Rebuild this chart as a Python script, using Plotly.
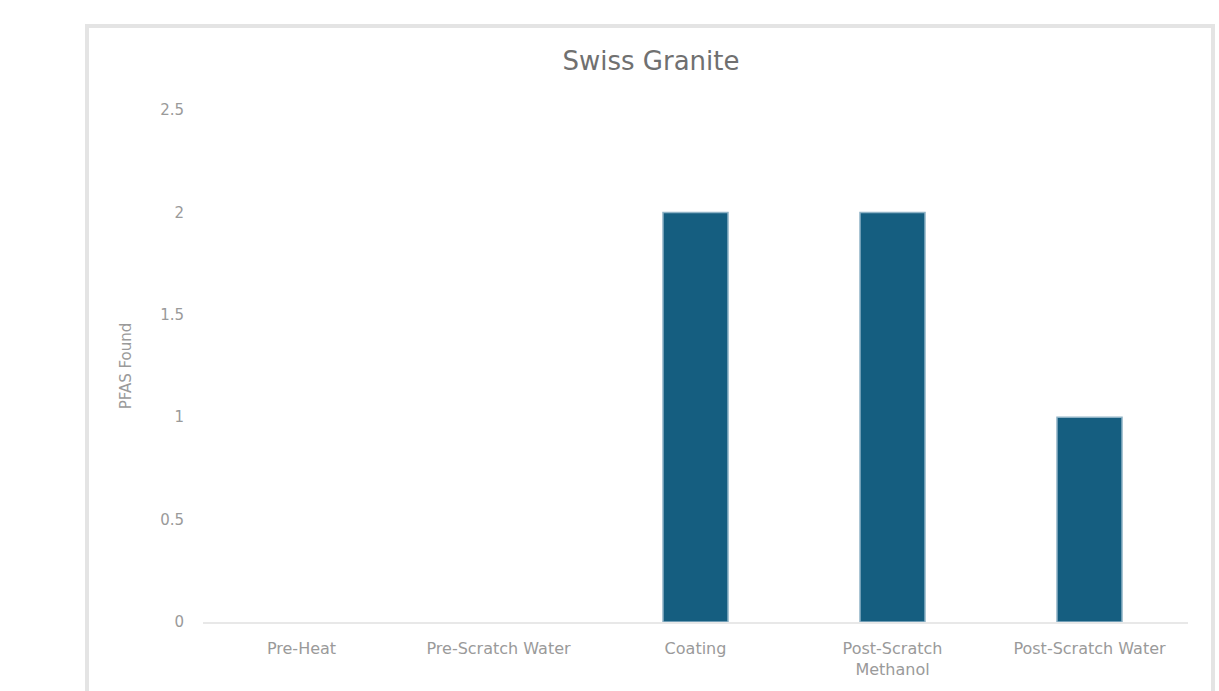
import plotly.graph_objects as go

# Sample stages and PFAS counts
categories = ["Pre-Heat", "Pre-Scratch Water", "Coating", "Post-Scratch<br>Methanol", "Post-Scratch Water"]
pfas_found = [0, 0, 2, 2, 1]
y_ticks = [0, 0.5, 1, 1.5, 2, 2.5]
y_tick_labels = ["0", "0.5", "1", "1.5", "2", "2.5"]

W, H = 1219, 691
L, R, T, B = 203, 31, 110, 69
pw, ph = W - L - R, H - T - B

def px_x(p):
    return (p - L) / pw

def px_y(p):
    return (H - B - p) / ph

FONT = "DejaVu Sans, sans-serif"
TEXT_GREY = "#9a9a9a"

# no outline on empty bars
outline_widths = [1.5 if v > 0 else 0 for v in pfas_found]

fig = go.Figure()
fig.add_trace(go.Bar(
    x=categories,
    y=pfas_found,
    marker=dict(color="#155e80", line=dict(color="#8fb3c6", width=outline_widths)),
    hoverinfo="x+y",
))

fig.update_layout(
    width=W, height=H,
    margin=dict(l=L, r=R, t=T, b=B),
    paper_bgcolor="white",
    plot_bgcolor="white",
    bargap=0.67,
    showlegend=False,
    font=dict(family=FONT, color=TEXT_GREY, size=13),
    title=dict(text="Swiss Granite", x=651 / W, xanchor="center", y=1 - 61 / H, yanchor="middle",
               font=dict(family=FONT, size=26, color="#707070")),
    xaxis=dict(
        showgrid=False, showline=True, linecolor="#e8e8e8", linewidth=2,
        ticks="", ticklabelstandoff=11,
        tickfont=dict(family=FONT, size=16, color=TEXT_GREY), zeroline=False,
    ),
    yaxis=dict(
        range=[0, 2.5], tickvals=y_ticks, ticktext=y_tick_labels,
        showgrid=False, showline=False, zeroline=False, ticks="",
        ticklabelstandoff=18,
        tickfont=dict(family=FONT, size=15, color=TEXT_GREY),
        title=dict(text="PFAS Found", font=dict(family=FONT, size=15, color=TEXT_GREY), standoff=24),
    ),
    shapes=[dict(
        type="rect", xref="paper", yref="paper",
        x0=px_x(87), x1=px_x(1213), y0=px_y(720), y1=px_y(26),
        line=dict(color="#e4e4e4", width=4), fillcolor="rgba(0,0,0,0)", layer="below",
    )],
)

fig.write_html("out.html")
